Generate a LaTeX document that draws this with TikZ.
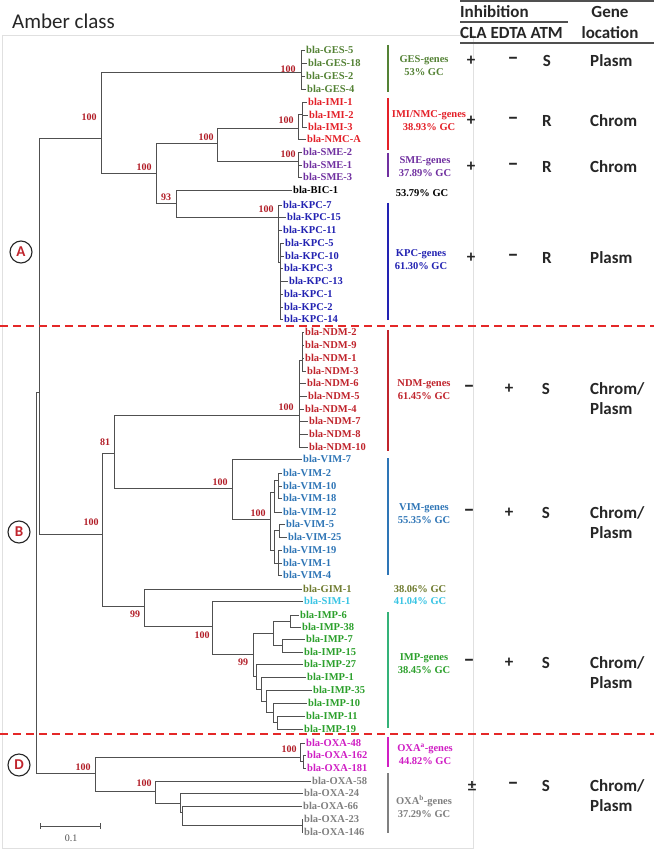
\documentclass[tikz,border=0pt]{standalone}
\usepackage{fontspec}
\setmainfont{Liberation Serif}
\newfontfamily\calibri[Ligatures=TeX]{Carlito}
\usetikzlibrary{positioning}

\definecolor{gescol}{RGB}{84,130,53}
\definecolor{imicol}{RGB}{228,32,40}
\definecolor{smecol}{RGB}{112,48,160}
\definecolor{kpccol}{RGB}{34,34,178}
\definecolor{ndmcol}{RGB}{192,36,44}
\definecolor{vimcol}{RGB}{46,117,182}
\definecolor{gimcol}{RGB}{112,124,48}
\definecolor{simcol}{RGB}{56,196,228}
\definecolor{impcol}{RGB}{44,160,44}
\definecolor{impbar}{RGB}{52,178,120}
\definecolor{oxacol}{RGB}{208,30,196}
\definecolor{oxbcol}{RGB}{128,128,128}
\definecolor{bootcol}{RGB}{178,30,40}
\definecolor{cutcol}{RGB}{228,40,40}
\definecolor{branchcol}{RGB}{80,80,80}
\definecolor{inkcol}{RGB}{38,38,38}

\tikzset{
  treeline/.style={draw=branchcol, line width=0.9pt},
  leaf/.style={anchor=west, inner sep=1pt, font=\bfseries\fontsize{10.5}{12}\selectfont},
  boot/.style={inner sep=0pt, text=bootcol, font=\bfseries\fontsize{10}{12}\selectfont},
  genes/.style={align=center, inner sep=0pt, font=\bfseries\fontsize{10.5}{13}\selectfont},
  genebar/.style={line width=2.2pt},
  cut/.style={draw=cutcol, line width=2pt, dash pattern=on 8pt off 5pt},
  clade/.style={draw=inkcol, circle, line width=1.1pt, minimum size=22pt, inner sep=0pt, text=ndmcol, font=\calibri\bfseries\fontsize{15}{15}\selectfont},
  cell/.style={inner sep=0pt, text=inkcol, font=\calibri\bfseries\fontsize{17}{20}\selectfont},
  minus/.style={cell, font=\calibri\bfseries\fontsize{22}{22}\selectfont},
  tablerule/.style={draw=branchcol, line width=1.4pt}
}

\begin{document}
\begin{tikzpicture}[x=1pt,y=-1pt]
\useasboundingbox (0,0) rectangle (654,850);
\fill[white] (0,0) rectangle (654,850);
\draw[black!12, line width=0.8pt] (2,35) rectangle (473,848);
\node[anchor=west, inner sep=0pt, text=inkcol, font=\calibri\fontsize{21}{21}\selectfont] (title) at (12,21) {Amber class};

% table head
\draw[tablerule] (460,1) -- (654,1);
\draw[tablerule] (460,22) -- (568,22);
\draw[tablerule] (460,43) -- (654,43);
\node[cell,anchor=west] (inh) at (460,12) {Inhibition};
\node[cell,anchor=west] (drugs) at (460,33) {CLA EDTA ATM};
\node[cell] (gene) at (610,12) {Gene};
\node[cell] (loc) at (610,33) {location};

% tree nodes
\coordinate (root) at (36,392);
\coordinate (nAB) at (39,392);
\coordinate (nA) at (101,138);
\coordinate (ges) at (301,72);
\coordinate (a2) at (156,173);
\coordinate (a3) at (217,143);
\coordinate (imi) at (298,128);
\coordinate (imiin) at (302,114);
\coordinate (sme) at (298,161);
\coordinate (a4) at (176,203);
\coordinate (kpc) at (278,217);
\coordinate (kpcin) at (280,262);
\coordinate (nB) at (102,534);
\coordinate (b1) at (114,453);
\coordinate (ndm) at (299,415);
\coordinate (ndmin) at (302,360);
\coordinate (vtop) at (232,488);
\coordinate (vim) at (270,519);
\coordinate (v1) at (274,492);
\coordinate (v2) at (278,480);
\coordinate (v3) at (274,550);
\coordinate (v4) at (279,530);
\coordinate (v5) at (278,563);
\coordinate (b2) at (144,606);
\coordinate (b3) at (212,626);
\coordinate (imp) at (253,654);
\coordinate (i1) at (273,633);
\coordinate (i2) at (290,621);
\coordinate (i3) at (282,645);
\coordinate (i4) at (256,676);
\coordinate (i5) at (261,689);
\coordinate (i6) at (266,701);
\coordinate (i7) at (273,712);
\coordinate (i8) at (277,722);
\coordinate (nD) at (95,773);
\coordinate (oxa) at (300,757);
\coordinate (oxain) at (303,761);
\coordinate (d2) at (155,791);
\coordinate (d3) at (180,803);
\coordinate (d4) at (182,812);
\coordinate (d5) at (302,825);

% leaves
\node[leaf,text=gescol] (ges5) at (305,50) {bla-GES-5};
\node[leaf,text=gescol] (ges18) at (307,63) {bla-GES-18};
\node[leaf,text=gescol] (ges2) at (305,76) {bla-GES-2};
\node[leaf,text=gescol] (ges4) at (306,89) {bla-GES-4};
\node[leaf,text=imicol] (imi1) at (307,102) {bla-IMI-1};
\node[leaf,text=imicol] (imi2) at (308,115) {bla-IMI-2};
\node[leaf,text=imicol] (imi3) at (307,127) {bla-IMI-3};
\node[leaf,text=imicol] (nmcA) at (306,139) {bla-NMC-A};
\node[leaf,text=smecol] (sme2) at (302,152) {bla-SME-2};
\node[leaf,text=smecol] (sme1) at (302,165) {bla-SME-1};
\node[leaf,text=smecol] (sme3) at (302,177) {bla-SME-3};
\node[leaf,text=black] (bic1) at (292,190) {bla-BIC-1};
\node[leaf,text=kpccol] (kpc7) at (282,205) {bla-KPC-7};
\node[leaf,text=kpccol] (kpc15) at (286,217) {bla-KPC-15};
\node[leaf,text=kpccol] (kpc11) at (282,230) {bla-KPC-11};
\node[leaf,text=kpccol] (kpc5) at (284,243) {bla-KPC-5};
\node[leaf,text=kpccol] (kpc10) at (284,256) {bla-KPC-10};
\node[leaf,text=kpccol] (kpc3) at (283,268) {bla-KPC-3};
\node[leaf,text=kpccol] (kpc13) at (288,281) {bla-KPC-13};
\node[leaf,text=kpccol] (kpc1) at (283,294) {bla-KPC-1};
\node[leaf,text=kpccol] (kpc2) at (283,307) {bla-KPC-2};
\node[leaf,text=kpccol] (kpc14) at (283,319) {bla-KPC-14};
\node[leaf,text=ndmcol] (ndm2) at (304,332) {bla-NDM-2};
\node[leaf,text=ndmcol] (ndm9) at (304,345) {bla-NDM-9};
\node[leaf,text=ndmcol] (ndm1) at (304,358) {bla-NDM-1};
\node[leaf,text=ndmcol] (ndm3) at (306,371) {bla-NDM-3};
\node[leaf,text=ndmcol] (ndm6) at (306,383) {bla-NDM-6};
\node[leaf,text=ndmcol] (ndm5) at (307,396) {bla-NDM-5};
\node[leaf,text=ndmcol] (ndm4) at (304,409) {bla-NDM-4};
\node[leaf,text=ndmcol] (ndm7) at (308,421) {bla-NDM-7};
\node[leaf,text=ndmcol] (ndm8) at (308,434) {bla-NDM-8};
\node[leaf,text=ndmcol] (ndm10) at (308,447) {bla-NDM-10};
\node[leaf,text=vimcol] (vim7) at (302,459) {bla-VIM-7};
\node[leaf,text=vimcol] (vim2) at (282,473) {bla-VIM-2};
\node[leaf,text=vimcol] (vim10) at (282,486) {bla-VIM-10};
\node[leaf,text=vimcol] (vim18) at (282,498) {bla-VIM-18};
\node[leaf,text=vimcol] (vim12) at (282,512) {bla-VIM-12};
\node[leaf,text=vimcol] (vim5) at (285,524) {bla-VIM-5};
\node[leaf,text=vimcol] (vim25) at (287,537) {bla-VIM-25};
\node[leaf,text=vimcol] (vim19) at (282,550) {bla-VIM-19};
\node[leaf,text=vimcol] (vim1) at (282,563) {bla-VIM-1};
\node[leaf,text=vimcol] (vim4) at (282,575) {bla-VIM-4};
\node[leaf,text=gimcol] (gim1) at (302,589) {bla-GIM-1};
\node[leaf,text=simcol] (sim1) at (303,601) {bla-SIM-1};
\node[leaf,text=impcol] (imp6) at (299,615) {bla-IMP-6};
\node[leaf,text=impcol] (imp38) at (301,627) {bla-IMP-38};
\node[leaf,text=impcol] (imp7) at (305,639) {bla-IMP-7};
\node[leaf,text=impcol] (imp15) at (303,652) {bla-IMP-15};
\node[leaf,text=impcol] (imp27) at (303,664) {bla-IMP-27};
\node[leaf,text=impcol] (imp1) at (306,677) {bla-IMP-1};
\node[leaf,text=impcol] (imp35) at (312,690) {bla-IMP-35};
\node[leaf,text=impcol] (imp10) at (307,703) {bla-IMP-10};
\node[leaf,text=impcol] (imp11) at (305,716) {bla-IMP-11};
\node[leaf,text=impcol] (imp19) at (303,729) {bla-IMP-19};
\node[leaf,text=oxacol] (oxa48) at (305,743) {bla-OXA-48};
\node[leaf,text=oxacol] (oxa162) at (306,755) {bla-OXA-162};
\node[leaf,text=oxacol] (oxa181) at (306,768) {bla-OXA-181};
\node[leaf,text=oxbcol] (oxa58) at (311,781) {bla-OXA-58};
\node[leaf,text=oxbcol] (oxa24) at (303,793) {bla-OXA-24};
\node[leaf,text=oxbcol] (oxa66) at (302,806) {bla-OXA-66};
\node[leaf,text=oxbcol] (oxa23) at (303,819) {bla-OXA-23};
\node[leaf,text=oxbcol] (oxa146) at (303,832) {bla-OXA-146};

% branches
\draw[treeline] (root) |- (nAB) (root) |- (nD);
\draw[treeline] (nAB) |- (nA) (nAB) |- (nB);
\draw[treeline] (nA) |- (ges) (nA) |- (a2);
\draw[treeline] (ges) |- (ges5.west) (ges) |- (ges18.west) (ges) |- (ges2.west) (ges) |- (ges4.west);
\draw[treeline] (a2) |- (a3) (a2) |- (a4);
\draw[treeline] (a3) |- (imi) (a3) |- (sme);
\draw[treeline] (imi) |- (imiin) (imi) |- (nmcA.west);
\draw[treeline] (imiin) |- (imi1.west) (imiin) |- (imi2.west) (imiin) |- (imi3.west);
\draw[treeline] (sme) |- (sme2.west) (sme) |- (sme1.west) (sme) |- (sme3.west);
\draw[treeline] (a4) |- (bic1.west) (a4) |- (kpc);
\draw[treeline] (kpc) |- (kpc7.west) (kpc) |- (kpc15.west) (kpc) |- (kpc11.west) (kpc) |- (kpcin);
\draw[treeline] (kpcin) |- (kpc5.west) (kpcin) |- (kpc10.west) (kpcin) |- (kpc3.west) (kpcin) |- (kpc13.west)
  (kpcin) |- (kpc1.west) (kpcin) |- (kpc2.west) (kpcin) |- (kpc14.west);
\draw[treeline] (nB) |- (b1) (nB) |- (b2);
\draw[treeline] (b1) |- (ndm) (b1) |- (vtop);
\draw[treeline] (ndm) |- (ndmin) (ndm) |- (ndm6.west) (ndm) |- (ndm5.west) (ndm) |- (ndm4.west)
  (ndm) |- (ndm7.west) (ndm) |- (ndm8.west) (ndm) |- (ndm10.west);
\draw[treeline] (ndmin) |- (ndm2.west) (ndmin) |- (ndm9.west) (ndmin) |- (ndm1.west) (ndmin) |- (ndm3.west);
\draw[treeline] (vtop) |- (vim7.west) (vtop) |- (vim);
\draw[treeline] (vim) |- (v1) (vim) |- (v3);
\draw[treeline] (v1) |- (v2) (v1) |- (vim12.west);
\draw[treeline] (v2) |- (vim2.west) (v2) |- (vim10.west) (v2) |- (vim18.west);
\draw[treeline] (v3) |- (v4) (v3) |- (v5);
\draw[treeline] (v4) |- (vim5.west) (v4) |- (vim25.west);
\draw[treeline] (v5) |- (vim19.west) (v5) |- (vim1.west) (v5) |- (vim4.west);
\draw[treeline] (b2) |- (gim1.west) (b2) |- (b3);
\draw[treeline] (b3) |- (sim1.west) (b3) |- (imp);
\draw[treeline] (imp) |- (i1) (imp) |- (i4);
\draw[treeline] (i1) |- (i2) (i1) |- (i3);
\draw[treeline] (i2) |- (imp6.west) (i2) |- (imp38.west);
\draw[treeline] (i3) |- (imp7.west) (i3) |- (imp15.west);
\draw[treeline] (i4) |- (imp27.west) (i4) |- (i5);
\draw[treeline] (i5) |- (imp1.west) (i5) |- (i6);
\draw[treeline] (i6) |- (imp35.west) (i6) |- (i7);
\draw[treeline] (i7) |- (imp10.west) (i7) |- (i8);
\draw[treeline] (i8) |- (imp11.west) (i8) |- (imp19.west);
\draw[treeline] (nD) |- (oxa) (nD) |- (d2);
\draw[treeline] (oxa) |- (oxa48.west) (oxa) |- (oxain);
\draw[treeline] (oxain) |- (oxa162.west) (oxain) |- (oxa181.west);
\draw[treeline] (d2) |- (oxa58.west) (d2) |- (d3);
\draw[treeline] (d3) |- (oxa24.west) (d3) |- (d4);
\draw[treeline] (d4) |- (oxa66.west) (d4) |- (d5);
\draw[treeline] (d5) |- (oxa23.west) (d5) |- (oxa146.west);

% bootstrap values
\node[boot] (bsA) at (89,117) {100};
\node[boot] (bsGES) at (288,69) {100};
\node[boot] (bsA2) at (144,167) {100};
\node[boot] (bsA3) at (206,137) {100};
\node[boot] (bsIMI) at (286,120) {100};
\node[boot] (bsSME) at (288,154) {100};
\node[boot] (bsA4) at (166,197) {93};
\node[boot] (bsKPC) at (266,209) {100};
\node[boot] (bsB) at (91,522) {100};
\node[boot] (bsB1) at (105,442) {81};
\node[boot] (bsNDM) at (286,407) {100};
\node[boot] (bsVtop) at (220,482) {100};
\node[boot] (bsVIM) at (258,513) {100};
\node[boot] (bsB2) at (135,614) {99};
\node[boot] (bsB3) at (202,635) {100};
\node[boot] (bsIMP) at (243,662) {99};
\node[boot] (bsD) at (83,767) {100};
\node[boot] (bsOXA) at (289,749) {100};
\node[boot] (bsD2) at (144,783) {100};

% gene groups
\draw[genebar,gescol] (388,45) -- (388,92);
\draw[genebar,imicol] (388,98) -- (388,150);
\draw[genebar,smecol] (388,153) -- (388,177);
\draw[genebar,kpccol] (388,203) -- (388,320);
\draw[genebar,ndmcol] (388,330) -- (388,451);
\draw[genebar,vimcol] (388,458) -- (388,575);
\draw[genebar,impbar] (388,612) -- (388,728);
\draw[genebar,oxacol] (388,737) -- (388,767);
\draw[genebar,oxbcol] (388,773) -- (388,833);
\node[genes,text=gescol] (gesT) at (424,66) {GES-genes\\53\% GC};
\node[genes,text=imicol] (imiT) at (429,121) {IMI/NMC-genes\\38.93\% GC};
\node[genes,text=smecol] (smeT) at (425,167) {SME-genes\\37.89\% GC};
\node[genes,text=black] (bicT) at (422,193) {53.79\% GC};
\node[genes,text=kpccol] (kpcT) at (421,260) {KPC-genes\\61.30\% GC};
\node[genes,text=ndmcol] (ndmT) at (424,390) {NDM-genes\\61.45\% GC};
\node[genes,text=vimcol] (vimT) at (424,514) {VIM-genes\\55.35\% GC};
\node[genes,text=gimcol] (gimT) at (420,589) {38.06\% GC};
\node[genes,text=simcol] (simT) at (420,601) {41.04\% GC};
\node[genes,text=impcol] (impT) at (424,664) {IMP-genes\\38.45\% GC};
\node[genes,text=oxacol] (oxaT) at (425,754) {OXA\textsuperscript{a}-genes\\44.82\% GC};
\node[genes,text=oxbcol] (oxbT) at (424,807) {OXA\textsuperscript{b}-genes\\37.29\% GC};

% classes
\draw[cut] (0,326) -- (654,326);
\draw[cut] (0,734) -- (654,734);
\node[clade] (cA) at (21,252) {A};
\node[clade] (cB) at (19,532) {B};
\node[clade] (cD) at (19,765) {D};

% scale bar
\coordinate (sbL) at (40,826);
\coordinate (sbR) at (100,826);
\draw[treeline] (sbL) -- (sbR);
\draw[treeline] ([yshift=3pt]sbL) -- ([yshift=-3pt]sbL);
\draw[treeline] ([yshift=3pt]sbR) -- ([yshift=-3pt]sbR);
\node[inner sep=0pt, text=branchcol, font=\fontsize{10}{12}\selectfont] (sbT) at (71,838) {0.1};

% table rows
\node[cell] (gesC) at (471,61) {+};
\node[minus] (gesE) at (513,61) {–};
\node[cell] (gesM) at (547,61) {S};
\node[cell,anchor=west] (gesL) at (590,61) {Plasm};
\node[cell] (imiC) at (471,121) {+};
\node[minus] (imiE) at (513,121) {–};
\node[cell] (imiM) at (547,121) {R};
\node[cell,anchor=west] (imiL) at (590,121) {Chrom};
\node[cell] (smeC) at (471,167) {+};
\node[minus] (smeE) at (513,167) {–};
\node[cell] (smeM) at (547,167) {R};
\node[cell,anchor=west] (smeL) at (590,167) {Chrom};
\node[cell] (kpcC) at (471,258) {+};
\node[minus] (kpcE) at (513,258) {–};
\node[cell] (kpcM) at (547,258) {R};
\node[cell,anchor=west] (kpcL) at (590,258) {Plasm};
\node[minus] (ndmC) at (469,389) {–};
\node[cell] (ndmE) at (509,389) {+};
\node[cell] (ndmM) at (546,389) {S};
\node[cell,anchor=west,align=left] (ndmL) at (590,399) {Chrom/\\Plasm};
\node[minus] (vimC) at (469,513) {–};
\node[cell] (vimE) at (509,513) {+};
\node[cell] (vimM) at (546,513) {S};
\node[cell,anchor=west,align=left] (vimL) at (590,523) {Chrom/\\Plasm};
\node[minus] (impC) at (469,663) {–};
\node[cell] (impE) at (509,663) {+};
\node[cell] (impM) at (546,663) {S};
\node[cell,anchor=west,align=left] (impL) at (590,673) {Chrom/\\Plasm};
\node[cell] (oxaC) at (472,786) {±};
\node[minus] (oxaE) at (513,786) {–};
\node[cell] (oxaM) at (546,786) {S};
\node[cell,anchor=west,align=left] (oxaL) at (590,796) {Chrom/\\Plasm};
\end{tikzpicture}
\end{document}
